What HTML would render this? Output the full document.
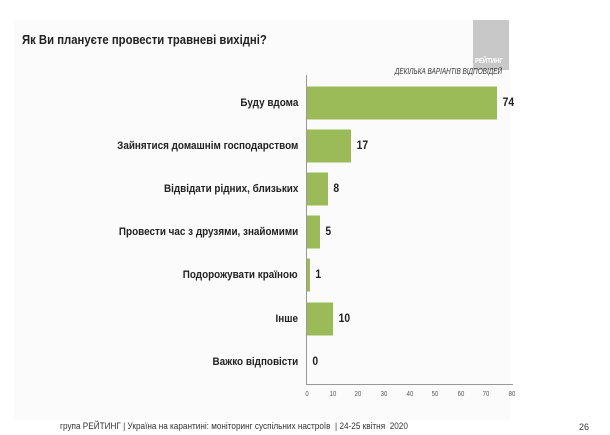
<!DOCTYPE html>
<html><head><meta charset="utf-8"><style>
body{margin:0;width:610px;height:435px;background:#fff;font-family:"Liberation Sans",sans-serif;position:relative;overflow:hidden}
.slide{position:absolute;left:14px;top:20px;width:496px;height:400px;background:#fbfbfb}
.t{position:absolute;white-space:nowrap}
.lab{position:absolute;right:312px;font-size:11px;font-weight:bold;color:#222;white-space:nowrap;transform:translateY(-50%) scaleX(0.9);transform-origin:right center}
.bar{position:absolute;left:307px;height:33px;background:#9bbb59;transform:translateY(-50%)}
.val{position:absolute;font-size:11.5px;font-weight:bold;color:#222;transform:translateY(-50%) scaleX(0.9)}
.tick{position:absolute;top:391px;font-size:7px;color:#555;transform:translateX(-50%) scaleX(0.85)}
</style></head><body>
<div class="slide"></div>
<div class="t" style="left:22px;top:32px;font-size:13px;font-weight:bold;color:#222;transform:scaleX(0.87);transform-origin:left top">Як Ви плануєте провести травневі вихідні?</div>
<div style="position:absolute;left:473px;top:20px;width:36px;height:50px;background:#c8c8c8"></div>
<div class="t" style="left:475px;top:58px;font-size:7px;font-weight:bold;color:#fff;transform:scaleX(0.85);transform-origin:left top">РЕЙТИНГ</div>
<div class="t" style="right:108px;top:67px;font-size:8px;font-style:italic;color:#333;transform:scaleX(0.8);transform-origin:right top">ДЕКІЛЬКА ВАРІАНТІВ ВІДПОВІДЕЙ</div>
<div style="position:absolute;left:306px;top:75px;width:1px;height:310px;background:#999"></div>
<div style="position:absolute;left:306px;top:384px;width:207px;height:1px;background:#999"></div>

<div class="lab" style="top:103px">Буду вдома</div><div class="bar" style="top:103px;width:190px"></div><div class="val" style="top:103px;left:502px">74</div>
<div class="lab" style="top:146px">Зайнятися домашнім господарством</div><div class="bar" style="top:146px;width:44px"></div><div class="val" style="top:146px;left:356px">17</div>
<div class="lab" style="top:189px">Відвідати рідних, близьких</div><div class="bar" style="top:189px;width:21px"></div><div class="val" style="top:189px;left:333px">8</div>
<div class="lab" style="top:232px">Провести час з друзями, знайомими</div><div class="bar" style="top:232px;width:13px"></div><div class="val" style="top:232px;left:325px">5</div>
<div class="lab" style="top:275px">Подорожувати країною</div><div class="bar" style="top:275px;width:3px"></div><div class="val" style="top:275px;left:315px">1</div>
<div class="lab" style="top:319px">Інше</div><div class="bar" style="top:319px;width:26px"></div><div class="val" style="top:319px;left:338px">10</div>
<div class="lab" style="top:362px">Важко відповісти</div><div class="val" style="top:362px;left:312px">0</div>

<div class="tick" style="left:307px">0</div><div class="tick" style="left:333px">10</div><div class="tick" style="left:358px">20</div><div class="tick" style="left:384px">30</div><div class="tick" style="left:410px">40</div><div class="tick" style="left:435px">50</div><div class="tick" style="left:461px">60</div><div class="tick" style="left:486px">70</div><div class="tick" style="left:512px">80</div>

<div class="t" style="left:60px;top:421px;font-size:9px;color:#333;transform:scaleX(0.91);transform-origin:left top">група РЕЙТИНГ | Україна на карантині: моніторинг суспільних настроїв&nbsp; | 24-25 квітня&nbsp; 2020</div>
<div class="t" style="left:579px;top:422px;font-size:9px;color:#333">26</div>
</body></html>
